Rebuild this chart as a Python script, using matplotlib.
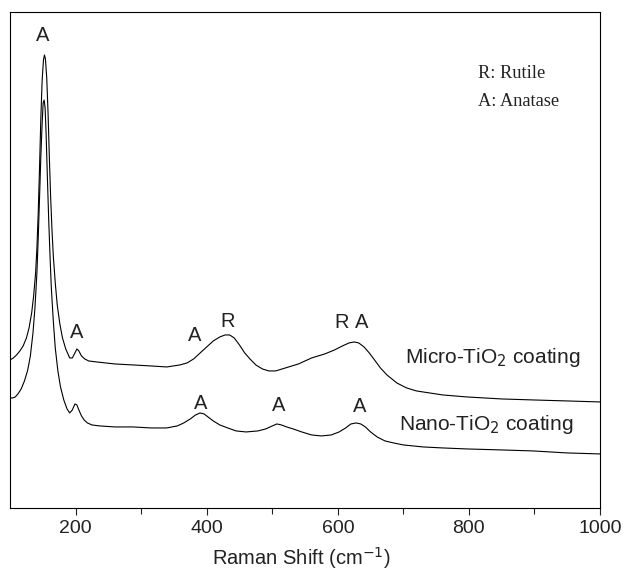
import matplotlib
matplotlib.use("Agg")
import matplotlib.pyplot as plt

plt.rcParams['font.family'] = ['Liberation Sans', 'DejaVu Sans']

# Raman shift (cm-1) and intensity (a.u.)
micro_x = [100, 105, 110, 115, 120, 125, 129, 133, 136, 139, 141, 143, 145, 147, 149, 151, 152.5,
           154, 156, 158, 160, 162, 164, 166, 169, 172, 176, 180, 185, 191, 195, 199, 202,
           205, 209, 214, 220, 232, 260, 288, 315, 339, 359, 370, 380, 390, 400, 410, 420,
           428, 435, 442, 450, 458, 466, 475, 485, 495, 505, 515, 525, 540, 560, 580, 595,
           607, 617, 625, 632, 640, 648, 656, 665, 675, 690, 705, 720, 760, 797, 850, 898,
           950, 1000]
micro_y = [148, 150, 153, 157, 162, 170, 180, 195, 212, 235, 260, 295, 340, 390, 428, 448, 453,
           449, 430, 395, 350, 310, 278, 252, 225, 203, 184, 170, 159, 150, 150, 155, 159,
           157, 152, 149, 147, 146, 144, 143, 142, 141, 143, 145, 149, 155, 161, 167, 171,
           173, 173, 170, 163, 155, 149, 143, 139, 137, 137, 139, 141, 144, 150, 154, 158,
           162, 165, 166, 165, 161, 155, 148, 140, 133, 125, 120, 117, 113, 111, 109, 108,
           107, 106]

nano_x = [100, 104, 108, 112, 117, 122, 127, 131, 135, 138, 141, 143, 145, 147, 149, 150.5, 152,
          153.5, 155, 157, 159, 161, 163, 166, 169, 173, 177, 182, 187, 191, 195, 199, 202,
          205, 209, 213, 218, 225, 237, 260, 288, 315, 339, 355, 365, 375, 383, 390, 396,
          402, 410, 420, 432, 445, 460, 478, 490, 500, 507, 514, 522, 532, 545, 560, 575,
          590, 602, 612, 620, 628, 635, 642, 650, 660, 672, 685, 700, 730, 760, 797, 850,
          898, 950, 1000]
nano_y = [110, 110, 111, 114, 119, 127, 138, 152, 175, 200, 235, 270, 310, 352, 385, 405, 408,
          400, 375, 330, 288, 252, 220, 187, 160, 137, 121, 108, 99, 95, 98, 104, 103,
          98, 92, 88, 85, 83, 82, 81, 81, 80, 80, 82, 85, 89, 93, 95, 94,
          91, 87, 83, 80, 77, 76, 77, 79, 82, 84, 83, 81, 79, 76, 73, 72,
          73, 76, 80, 84, 85, 84, 81, 76, 71, 67, 65, 63, 61, 60, 59, 58,
          57, 55, 54]

x_ticks = [200, 400, 600, 800, 1000]

fig = plt.figure(figsize=(6.27, 5.72), dpi=100)
ax = fig.add_axes([0.016, 0.112, 0.941, 0.867])
ax.plot(micro_x, micro_y, color='black', lw=0.8)
ax.plot(nano_x, nano_y, color='black', lw=0.8)

ax.set_xlim(100, 1000)
ax.set_ylim(0, 496)
ax.set_xticks(x_ticks)
ax.set_xticks([300, 500, 700, 900], minor=True)
ax.tick_params(axis='x', which='both', direction='out', length=5, width=0.8, labelsize=14, colors='#222222', pad=4)
ax.tick_params(axis='x', which='minor', length=4)
ax.set_yticks([])
for s in ax.spines.values():
    s.set_linewidth(0.8)
ax.set_xlabel('Raman Shift (cm$^{-1}$)', fontsize=14.5, color='#222222', labelpad=8)
ax.xaxis.set_label_coords(0.494, -0.075)

fs = 14.5
# peak labels
labels = [
    (149, 473, 'A'),
    (202, 175, 'A'),
    (382, 172, 'A'),
    (432, 186, 'R'),
    (606, 185, 'R'),
    (637, 185, 'A'),
    (390, 104, 'A'),
    (510, 102, 'A'),
    (634, 101, 'A'),
]
for x, y, t in labels:
    ax.text(x, y, t, fontsize=fs, ha='center', va='center', color='#222222')

ax.text(702, 150, 'Micro-TiO$_2$ coating', fontsize=15, ha='left', va='center', color='#222222')
ax.text(694, 83, 'Nano-TiO$_2$ coating', fontsize=15, ha='left', va='center', color='#222222')

ax.text(814, 435, 'R: Rutile', fontsize=13.2, family=['Liberation Serif'], ha='left', va='center', color='#222222')
ax.text(814, 406, 'A: Anatase', fontsize=13.2, family=['Liberation Serif'], ha='left', va='center', color='#222222')

fig.savefig('out.png', dpi=100)
